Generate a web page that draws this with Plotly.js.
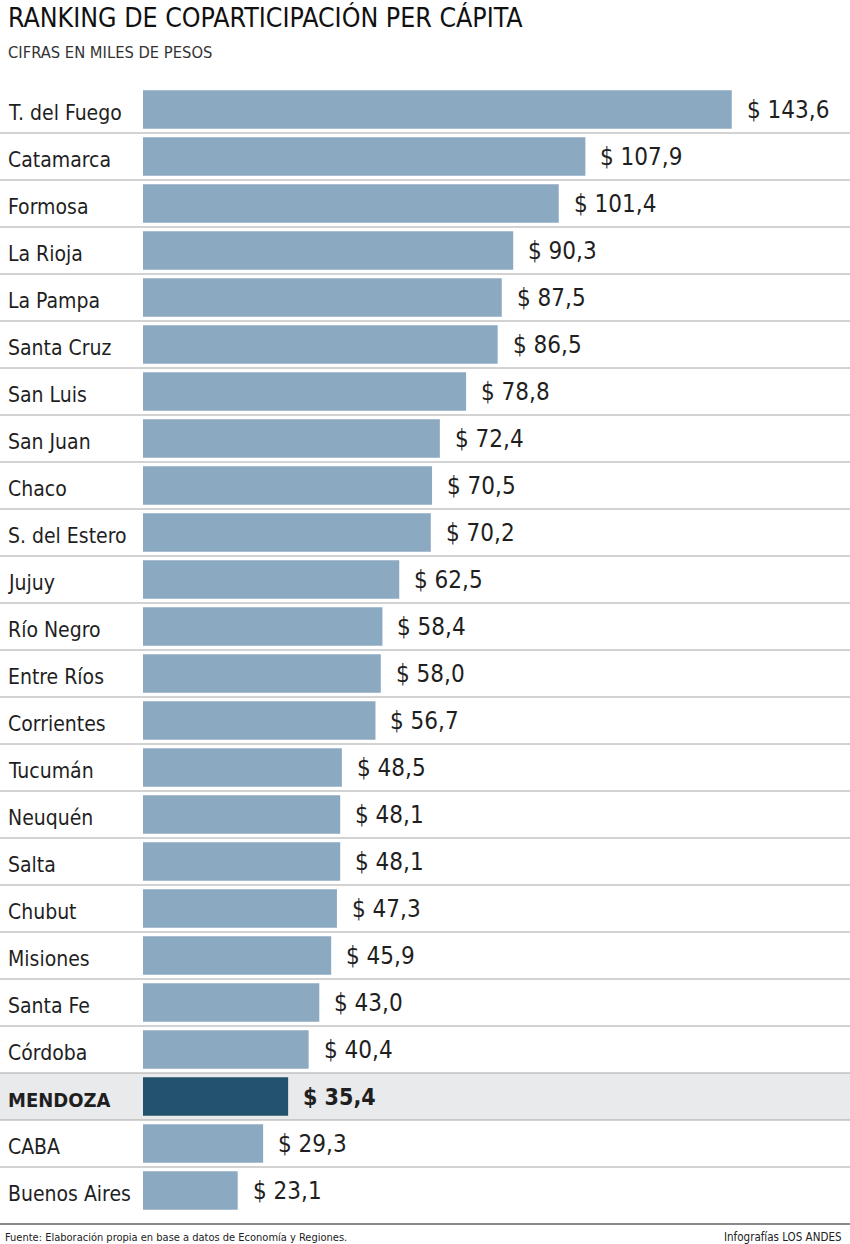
<!DOCTYPE html>
<html>
<head>
<meta charset="utf-8">
<script src="https://cdn.plot.ly/plotly-3.0.1.min.js"></script>
<style>
html,body{margin:0;padding:0;background:#fff;}
#chart{width:850px;height:1244px;}
</style>
</head>
<body>
<div id="chart"></div>
<script>
var categories = ["T. del Fuego","Catamarca","Formosa","La Rioja","La Pampa","Santa Cruz","San Luis","San Juan","Chaco","S. del Estero","Jujuy","Río Negro","Entre Ríos","Corrientes","Tucumán","Neuquén","Salta","Chubut","Misiones","Santa Fe","Córdoba","MENDOZA","CABA","Buenos Aires"];
var values = [143.6,107.9,101.4,90.3,87.5,86.5,78.8,72.4,70.5,70.2,62.5,58.4,58.0,56.7,48.5,48.1,48.1,47.3,45.9,43.0,40.4,35.4,29.3,23.1];
var valueLabels = ["$ 143,6","$ 107,9","$ 101,4","$ 90,3","$ 87,5","$ 86,5","$ 78,8","$ 72,4","$ 70,5","$ 70,2","$ 62,5","$ 58,4","$ 58,0","$ 56,7","$ 48,5","$ 48,1","$ 48,1","$ 47,3","$ 45,9","$ 43,0","$ 40,4","$ 35,4","$ 29,3","$ 23,1"];
var highlight = "MENDOZA";

var FONT = "'Liberation Sans Narrow','DejaVu Sans Condensed','Roboto Condensed',sans-serif";
var W = 850, H = 1244, ML = 143, MR = 0, MT = 86, MB = 30;
var plotW = W - ML - MR, plotH = H - MT - MB;
var leftPaper = -ML / plotW;

var colors = categories.map(function(c){ return c === highlight ? "#22526d" : "#8ca9c2"; });

var annotations = [];
var shapes = [];
var hiIdx = categories.indexOf(highlight);

// highlight row background
shapes.push({type:"rect", xref:"paper", yref:"y", x0:leftPaper, x1:1, y0:hiIdx-0.5, y1:hiIdx+0.5,
  fillcolor:"#e9eaec", line:{width:0}, layer:"below"});
// separators
for (var i = 0; i < categories.length - 1; i++) {
  shapes.push({type:"line", xref:"paper", yref:"y", x0:leftPaper, x1:1, y0:i+0.5, y1:i+0.5,
    line:{color:"#a6a6a6", width:1}, layer:"below"});
}
// footer line
shapes.push({type:"line", xref:"paper", yref:"paper", x0:leftPaper, x1:1, y0:-10/plotH, y1:-10/plotH,
  line:{color:"#8a8a8a", width:2}});

categories.forEach(function(c, i){
  var hi = c === highlight;
  annotations.push({xref:"paper", yref:"y", x:leftPaper + 6/plotW, y:i, yshift:-3, xanchor:"left", yanchor:"middle",
    text: hi ? "<b>"+c+"</b>" : c, showarrow:false,
    font:{family:FONT, size: hi ? 20 : 21, color:"#1f1f1f"}});
  annotations.push({xref:"x", yref:"y", x:values[i], y:i, xshift:13, yshift:0, xanchor:"left", yanchor:"middle",
    text: hi ? "<b>"+valueLabels[i]+"</b>" : valueLabels[i], showarrow:false,
    font:{family:FONT, size: hi ? 23 : 24, color:"#1f1f1f"}});
});

// title, subtitle, footer
annotations.push({xref:"paper", yref:"paper", x:leftPaper + 6/plotW, y:1 + (MT-18)/plotH, xanchor:"left", yanchor:"middle",
  text:"RANKING DE COPARTICIPACIÓN PER CÁPITA", showarrow:false, font:{family:FONT, size:26.5, color:"#111"}});
annotations.push({xref:"paper", yref:"paper", x:leftPaper + 6/plotW, y:1 + (MT-53)/plotH, xanchor:"left", yanchor:"middle",
  text:"CIFRAS EN MILES DE PESOS", showarrow:false, font:{family:FONT, size:16.4, color:"#333"}});
annotations.push({xref:"paper", yref:"paper", x:leftPaper + 3/plotW, y:-(1237-(H-MB))/plotH, xanchor:"left", yanchor:"middle",
  text:"Fuente: Elaboración propia en base a datos de Economía y Regiones.", showarrow:false, font:{family:FONT, size:11, color:"#222"}});
annotations.push({xref:"paper", yref:"paper", x:1 - 6/plotW, y:-(1237-(H-MB))/plotH, xanchor:"right", yanchor:"middle",
  text:"Infografías LOS ANDES", showarrow:false, font:{family:FONT, size:11.5, color:"#222"}});

var trace = {type:"bar", orientation:"h", x:values, y:categories, marker:{color:colors, line:{width:0}},
  hoverinfo:"none", cliponaxis:false};

var layout = {
  width:W, height:H, margin:{l:ML, r:MR, t:MT, b:MB, pad:0},
  paper_bgcolor:"#fff", plot_bgcolor:"rgba(0,0,0,0)",
  showlegend:false, bargap:0.18,
  xaxis:{range:[0, plotW/4.1], visible:false, fixedrange:true},
  yaxis:{type:"category", range:[categories.length-0.5, -0.5], visible:false, fixedrange:true},
  shapes:shapes, annotations:annotations,
  font:{family:FONT}
};
Plotly.newPlot("chart", [trace], layout, {displayModeBar:false, staticPlot:true});
</script>
</body>
</html>
